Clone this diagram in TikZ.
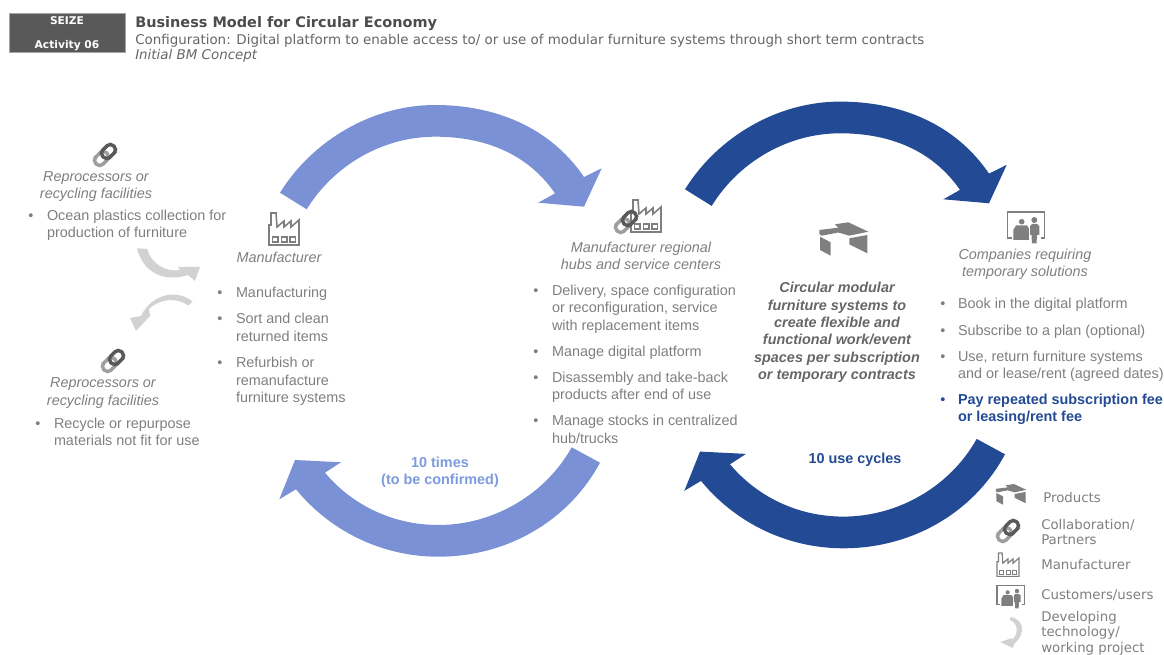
\documentclass[tikz,border=0pt]{standalone}
\usepackage{fontspec}
\setmainfont{Liberation Sans}
\newfontfamily\vfont{DejaVu Sans}
\definecolor{lightarc}{HTML}{7A91D6}
\definecolor{darkarc}{HTML}{234A94}
\definecolor{lighttxt}{HTML}{7D9BDC}
\definecolor{txtgray}{HTML}{7F7F7F}
\definecolor{icongray}{HTML}{7F7F7F}
\definecolor{ghost}{HTML}{D2D2D2}
\definecolor{boxgray}{HTML}{595959}
\newcommand\ArcUp{(280,192.7) .. controls (313,139.7) and (373,105) .. (435,105)
  .. controls (495,105) and (550,127) .. (584,177)
  -- (601.7,168.3) -- (584,206.7) -- (538.3,202.7) -- (555,193.3)
  .. controls (527,153) and (484,136.7) .. (435,136.7)
  .. controls (383,136.7) and (334,165) .. (306.7,209.3) -- cycle}
\newcommand\ArcDown{(600,462.7) .. controls (568,522) and (506,556.7) .. (438.3,556.7)
  .. controls (383,556.7) and (331,532) .. (296,489.3)
  -- (279.3,499.3) -- (295,460) -- (341,462.3) -- (325,472.7)
  .. controls (353,506) and (394,525) .. (438.3,525)
  .. controls (493,525) and (545,495) .. (571.7,447.3) -- cycle}
\tikzset{
  x=0.75pt,y=-0.75pt,
  iconline/.style={line width=1.2pt},
  bodytxt/.style={inner sep=0pt,outer sep=0pt,yshift=-1.5pt,text=txtgray,font=\fontsize{10.8}{13}\selectfont,align=left,anchor=west},
  bullet/.style={inner sep=0pt,yshift=-1.5pt,text=txtgray,font=\fontsize{10.8}{13}\selectfont},
  rolelabel/.style={inner sep=0pt,yshift=-1.5pt,text=txtgray,font=\fontsize{10.8}{13}\selectfont\itshape,align=center},
  legendtxt/.style={inner sep=0pt,text=txtgray,anchor=west,align=left,font=\vfont\fontsize{10}{11.7}\selectfont},
  hdrtxt/.style={inner sep=0pt,text=white,font=\vfont\bfseries\fontsize{8}{10}\selectfont},
  pics/factory/.style={code={
    \draw[icongray,iconline,line join=miter]
      (0,32)--(0,12)--(2,12)--(2,0)--(7,0)--(8,14)--(15,8)--(15,14)--(22,8)--(22,14)--(30,7)--(30,32)--cycle;
    \draw[icongray,iconline] (3.5,24) rectangle (9,29) (12.5,24) rectangle (18,29) (21,24) rectangle (26.5,29);
  }},
  pics/links/.style={code={
    \draw[icongray!75,line width=2.6pt,rounded corners=3.2pt]
      (-7.04,-0.04)--(-12.34,5.26)--(-5.26,12.34)--(5.34,1.74)--(-1.74,-5.34)--cycle;
    \draw[black!65,line width=2.6pt,rounded corners=3.2pt]
      (7.04,0.04)--(12.34,-5.26)--(5.26,-12.34)--(-5.34,-1.74)--(1.74,5.34)--cycle;
  }},
  pics/desk/.style={code={
    \fill[icongray] (9.3,15)--(28.3,12.7)--(25,9.3)--(38.3,7.3)--(58.3,16.7)--(39.3,20.7)--(28.3,17.5)--(11.7,20.7)--(9.3,19)--cycle;
    \fill[icongray] (10,21.7)--(20.7,27.3)--(20.7,40.7)--(10,35)--cycle;
    \fill[icongray] (39.3,23.3)--(57.3,20)--(57.3,38.3)--(39.3,29.3)--cycle;
  }},
  pics/people/.style={code={
    \draw[icongray,iconline] (11.7,33.3)--(7.3,33.3)--(7.3,7.3)--(44.5,7.3)--(44.5,33.3)--(40,33.3);
    \fill[icongray] (21.7,16.7) circle (2.8);
    \fill[icongray] (13.3,25)--(16,20.5)--(27,20.5)--(30,25)--(30,35)--(13.3,35)--cycle;
    \fill[white] (28.5,18)--(41,18)--(41,39.5)--(28.5,39.5)--cycle;
    \fill[icongray] (34.3,15) circle (3);
    \fill[icongray] (30,21)--(32,19)--(37,19)--(39.3,21)--(39.3,30)--(37,30)--(36.5,38.5)--(32,38.5)--(31.5,30)--(30,30)--cycle;
  }}
}
\begin{document}
\begin{tikzpicture}
\useasboundingbox (0,0) rectangle (1164,655);
% large cycle arrows
\fill[lightarc] \ArcUp;
\fill[lightarc] \ArcDown;
\fill[darkarc,shift={(405,-3.4)}] \ArcUp;
\fill[darkarc,shift={(405,-8.4)}] \ArcDown;
% header
\node[draw=gray!70,line width=.5pt,fill=boxgray,minimum width=87pt,minimum height=29.25pt,inner sep=0pt] (hdr) at (67,32.6) {};
\node[hdrtxt] (hdr1) at (67,20.5) {SEIZE};
\node[hdrtxt] (hdr2) at (67,46) {Activity 06};
\node[inner sep=0pt,anchor=west,text=black!70,font=\vfont\bfseries\fontsize{10.85}{13}\selectfont] (title) at (135,23.5) {Business Model for Circular Economy};
\node[inner sep=0pt,anchor=west,text=black!60,font=\vfont\fontsize{10.06}{12}\selectfont] (sub) at (135,40.5) {Configuration: Digital platform to enable access to/ or use of modular furniture systems through short term contracts};
\node[inner sep=0pt,anchor=west,text=black!60,font=\vfont\itshape\fontsize{10.06}{12}\selectfont] (stage) at (135,55.5) {Initial BM Concept};
% left small arrows
\fill[ghost] (137,248.3)--(147.3,249) .. controls (150,262) and (165,273) .. (180,270)
  -- (178,267) -- (200,267) -- (195,281) -- (188,275) .. controls (170,281) and (145,278) .. (137,248.3) -- cycle;
\fill[ghost] (192.7,301.7) .. controls (178,289) and (152,293) .. (141,316)
  -- (130,318) -- (136,331) -- (150,316) -- (149,309) .. controls (158,300) and (175,296) .. (188,305.5) -- cycle;
% icons
\pic at (105,155) {links};
\pic at (113,361) {links};
\pic at (269,213) {factory};
\pic at (631,200) {factory};
\pic at (626,222) {links};
\pic at (810,215) {desk};
\pic at (1000,205) {people};
% left upper
\node[rolelabel] (rp1) at (96,184.5) {Reprocessors or\\recycling facilities};
\node[bullet] (b1) at (31,215) {•};
\node[bodytxt] (t1) at (47,223.5) {Ocean plastics collection for\\production of furniture};
% left lower
\node[rolelabel] (rp2) at (103,391) {Reprocessors or\\recycling facilities};
\node[bullet] (b2) at (38,423) {•};
\node[bodytxt] (t2) at (54,430) {Recycle or repurpose\\materials not fit for use};
% manufacturer
\node[rolelabel] (mf) at (279,255.5) {Manufacturer};
\node[bullet] (b3) at (220,292) {•};
\node[bodytxt] (t3) at (236,292) {Manufacturing};
\node[bullet] (b4) at (220,318) {•};
\node[bodytxt] (t4) at (236,325.5) {Sort and clean\\returned items};
\node[bullet] (b5) at (220,362) {•};
\node[bodytxt] (t5) at (236,379.5) {Refurbish or\\remanufacture\\furniture systems};
% hubs
\node[rolelabel] (hub) at (641,254) {Manufacturer regional\\hubs and service centers};
\node[bullet] (b6) at (536,290) {•};
\node[bodytxt] (t6) at (552,307) {Delivery, space configuration\\or reconfiguration, service\\with replacement items};
\node[bullet] (b7) at (536,351) {•};
\node[bodytxt] (t7) at (552,351) {Manage digital platform};
\node[bullet] (b8) at (536,377) {•};
\node[bodytxt] (t8) at (552,385.5) {Disassembly and take-back\\products after end of use};
\node[bullet] (b9) at (536,420) {•};
\node[bodytxt] (t9) at (552,427.5) {Manage stocks in centralized\\hub/trucks};
% centre
\node[inner sep=0pt,yshift=-1.5pt,text=black!60,align=center,font=\bfseries\itshape\fontsize{10.8}{13}\selectfont] (core) at (837,330.5)
  {Circular modular\\furniture systems to\\create flexible and\\functional work/event\\spaces per subscription\\or temporary contracts};
\node[inner sep=0pt,yshift=-1.5pt,text=darkarc,font=\bfseries\fontsize{10.8}{13}\selectfont] (uc) at (855,458) {10 use cycles};
\node[inner sep=0pt,yshift=-1.5pt,text=lighttxt,align=center,font=\bfseries\fontsize{10.8}{13}\selectfont] (tm) at (440,470.5) {10 times\\(to be confirmed)};
% companies
\node[rolelabel] (cp) at (1025,262.5) {Companies requiring\\temporary solutions};
\node[bullet] (b10) at (943,303) {•};
\node[bodytxt] (t10) at (958,303) {Book in the digital platform};
\node[bullet] (b11) at (943,330) {•};
\node[bodytxt] (t11) at (958,330) {Subscribe to a plan (optional)};
\node[bullet] (b12) at (943,356) {•};
\node[bodytxt] (t12) at (958,364.5) {Use, return furniture systems\\and or lease/rent (agreed dates)};
\node[bullet,text=darkarc] (b13) at (943,399) {•};
\node[bodytxt,text=darkarc,font=\bfseries\fontsize{10.8}{13}\selectfont] (t13) at (958,407.5) {Pay repeated subscription fee\\or leasing/rent fee};
% legend
\begin{scope}[iconline/.style={line width=.9pt}]
\pic[scale=.62] at (990.2,479.5) {desk};
\pic at (1008,531) {links};
\pic[scale=.73] at (997,553) {factory};
\pic[scale=.74] at (991.6,580) {people};
\end{scope}
\fill[ghost] (1010,617) .. controls (1022,618) and (1028,632) .. (1014,644)
  -- (1013,648) -- (1000,642) -- (1012,638) -- (1012,640) .. controls (1020,632) and (1017,623) .. (1010,620) -- cycle;
\node[legendtxt] (l1) at (1043,498) {Products};
\node[legendtxt] (l2) at (1041,532) {Collaboration/\\Partners};
\node[legendtxt] (l3) at (1041,564.5) {Manufacturer};
\node[legendtxt] (l4) at (1041,595.5) {Customers/users};
\node[legendtxt] (l5) at (1041,633) {Developing\\technology/\\working project};
\end{tikzpicture}
\end{document}
